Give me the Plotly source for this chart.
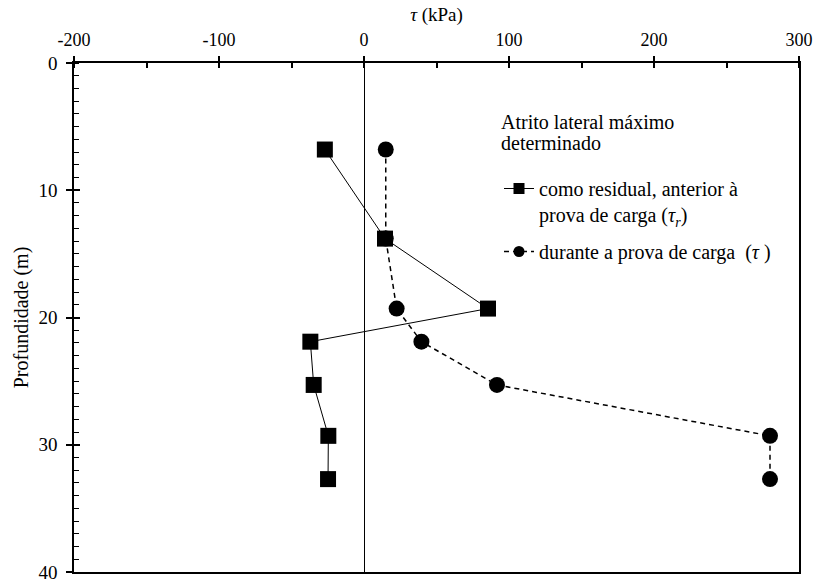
import plotly.graph_objects as go

# Depth of each measurement level (m)
depth = [6.8, 13.8, 19.3, 21.9, 25.3, 29.3, 32.7]
# Maximum lateral friction, residual (before the load test) and during the load test (kPa)
tau_residual = [-27, 14.5, 85.5, -37, -34.7, -24.6, -24.8]
tau_loading = [15, 15, 22.5, 39.6, 91.7, 280, 280]

x_ticks = [-200, -100, 0, 100, 200, 300]
x_tick_labels = ["-200", "-100", "0", "100", "200", "300"]
y_ticks = [0, 10, 20, 30, 40]
y_tick_labels = ["0", "10", "20", "30", "40"]

name_residual = "como residual, anterior à<br>prova de carga (<i>τ<sub>r</sub></i>)"
name_loading = "durante a prova de carga  (<i>τ</i> )"

FONT = "Liberation Serif, Times New Roman, serif"
W, H = 816, 581
ML, MR, MT, MB = 74, 17, 63, 9
PW, PH = W - ML - MR, H - MT - MB


def px_x(px):
    return (px - ML) / PW


def px_y(py):
    return 1 - (py - MT) / PH


def font(size):
    return dict(family=FONT, size=size, color="black")


line_residual = dict(color="black", width=1)
line_loading = dict(color="black", width=1.5, dash="5px,4px")

fig = go.Figure()

# data series (loading drawn first so the squares sit on top)
fig.add_trace(go.Scatter(
    x=tau_loading, y=depth, mode="lines+markers", name=name_loading,
    line=line_loading, marker=dict(symbol="circle", size=16, color="black"),
    showlegend=False,
))
fig.add_trace(go.Scatter(
    x=tau_residual, y=depth, mode="lines+markers", name=name_residual,
    line=line_residual, marker=dict(symbol="square", size=16, color="black"),
    showlegend=False,
))

# legend keys with smaller symbols
fig.add_trace(go.Scatter(
    x=[None], y=[None], mode="lines+markers", name=name_residual,
    line=line_residual, marker=dict(symbol="square", size=11, color="black"),
    legend="legend", hoverinfo="skip",
))
fig.add_trace(go.Scatter(
    x=[None], y=[None], mode="lines+markers", name=name_loading,
    line=line_loading, marker=dict(symbol="circle", size=11, color="black"),
    legend="legend2", hoverinfo="skip",
))

# invisible trace that carries the overlay axes used for the inner half of the major ticks
fig.add_trace(go.Scatter(x=[None], y=[None], xaxis="x2", yaxis="y2",
                         showlegend=False, hoverinfo="skip"))

fig.update_layout(
    width=W, height=H,
    margin=dict(l=ML, r=MR, t=MT, b=MB, autoexpand=False),
    paper_bgcolor="white", plot_bgcolor="white",
    font=font(18),
    xaxis=dict(
        side="top", range=[-200, 300], tickvals=x_ticks, ticktext=x_tick_labels,
        ticks="outside", ticklen=5, tickwidth=1.5, tickcolor="black",
        minor=dict(dtick=50, ticks="inside", ticklen=5, tickwidth=1.5, tickcolor="black"),
        showline=True, linecolor="black", linewidth=1.5, mirror=True,
        showgrid=False, zeroline=True, zerolinecolor="black", zerolinewidth=1,
        tickfont=font(18), automargin=False, ticklabeloverflow="allow",
        ticklabelstandoff=3,
        title=dict(text="<i>τ</i> (kPa)", font=font(19), standoff=3),
    ),
    yaxis=dict(
        range=[40, 0], tickvals=y_ticks, ticktext=y_tick_labels,
        ticks="outside", ticklen=6, tickwidth=1.5, tickcolor="black",
        minor=dict(dtick=1, ticks="inside", ticklen=5, tickwidth=1, tickcolor="black"),
        showline=True, linecolor="black", linewidth=1.5, mirror=True,
        showgrid=False, zeroline=False,
        tickfont=font(19), automargin=False, ticklabeloverflow="allow",
        ticklabelstandoff=5,
        title=dict(text="Profundidade (m)", font=font(20), standoff=4),
    ),
    xaxis2=dict(
        overlaying="x", side="top", range=[-200, 300], tickvals=x_ticks,
        ticks="inside", ticklen=5, tickwidth=1.5, tickcolor="black",
        showticklabels=False, showline=False, showgrid=False, zeroline=False,
    ),
    yaxis2=dict(
        overlaying="y", side="left", range=[40, 0], tickvals=y_ticks,
        ticks="inside", ticklen=6, tickwidth=1.5, tickcolor="black",
        showticklabels=False, showline=False, showgrid=False, zeroline=False,
    ),
    legend=dict(
        x=px_x(499), y=px_y(169), xanchor="left", yanchor="top",
        bgcolor="rgba(0,0,0,0)", borderwidth=0, valign="top", font=font(20),
    ),
    legend2=dict(
        x=px_x(499), y=px_y(232), xanchor="left", yanchor="top",
        bgcolor="rgba(0,0,0,0)", borderwidth=0, valign="top", font=font(20),
    ),
    annotations=[
        dict(text="Atrito lateral máximo", xref="paper", yref="paper",
             x=px_x(499), y=px_y(122), xanchor="left", yanchor="middle",
             showarrow=False, font=font(20)),
        dict(text="determinado", xref="paper", yref="paper",
             x=px_x(499), y=px_y(143), xanchor="left", yanchor="middle",
             showarrow=False, font=font(20)),
    ],
)

fig.write_html("out.html")
